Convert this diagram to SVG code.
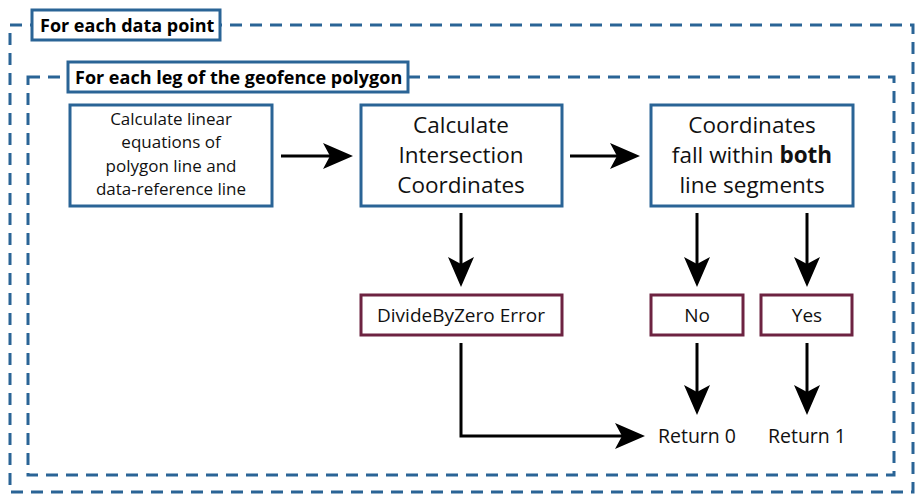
<svg xmlns="http://www.w3.org/2000/svg" width="924" height="503" viewBox="0 0 924 503">
<style>
.dash{fill:none;stroke:#2a6496;stroke-width:3;stroke-dasharray:12 8}
.bbox{fill:#fff;stroke:#2a6496;stroke-width:3}
.rbox{fill:#fff;stroke:#6d2341;stroke-width:3}
.t{font-family:"Open Sans","Noto Sans",sans-serif;fill:#111;text-anchor:middle}
.lbl{font-family:"Open Sans","Noto Sans",sans-serif;font-weight:bold;font-size:18px;fill:#000}
.con{fill:none;stroke:#000;stroke-width:3}
</style>
<defs>
<marker id="ah" viewBox="0 0 30 26" refX="8" refY="13" markerWidth="30" markerHeight="26" markerUnits="userSpaceOnUse" orient="auto">
<path d="M0,0 L30,13 L0,26 L7,13 Z" fill="#000"/>
</marker>
</defs>
<rect width="924" height="503" fill="#fff"/>
<g id="outer-loop">
<rect class="dash" x="10" y="25" width="903" height="467"/>
<rect class="bbox" x="32" y="10" width="188" height="30"/>
<text class="lbl" x="40" y="32">For each data point</text>
</g>
<g id="inner-loop">
<rect class="dash" x="28" y="77" width="866" height="398"/>
<rect class="bbox" x="68" y="62" width="340" height="30"/>
<text class="lbl" x="75" y="84">For each leg of the geofence polygon</text>
</g>
<g id="connectors">
<line class="con" x1="281" y1="156" x2="331" y2="156" marker-end="url(#ah)"/>
<line class="con" x1="570" y1="156" x2="618" y2="156" marker-end="url(#ah)"/>
<line class="con" x1="461" y1="213" x2="461" y2="265" marker-end="url(#ah)"/>
<line class="con" x1="697" y1="213" x2="697" y2="265" marker-end="url(#ah)"/>
<line class="con" x1="807" y1="213" x2="807" y2="265" marker-end="url(#ah)"/>
<line class="con" x1="697" y1="343" x2="697" y2="393" marker-end="url(#ah)"/>
<line class="con" x1="807" y1="343" x2="807" y2="393" marker-end="url(#ah)"/>
<polyline class="con" points="461,343 461,436 623,436" marker-end="url(#ah)"/>
</g>
<g id="calc-linear">
<rect class="bbox" x="70" y="105" width="202" height="101"/>
<text class="t" font-size="17" x="171"><tspan x="171" y="125">Calculate linear</tspan><tspan x="171" y="148">equations of</tspan><tspan x="171" y="172">polygon line and</tspan><tspan x="171" y="195">data-reference line</tspan></text>
</g>
<g id="calc-intersection">
<rect class="bbox" x="361" y="105" width="201" height="101"/>
<text class="t" font-size="22.5" x="461"><tspan x="461" y="133">Calculate</tspan><tspan x="461" y="163">Intersection</tspan><tspan x="461" y="193">Coordinates</tspan></text>
</g>
<g id="coords-within">
<rect class="bbox" x="651" y="105" width="202" height="101"/>
<text class="t" font-size="22.5" x="752"><tspan x="752" y="133">Coordinates</tspan><tspan x="752" y="163">fall within <tspan font-weight="bold">both</tspan></tspan><tspan x="752" y="193">line segments</tspan></text>
</g>
<g id="divide-error">
<rect class="rbox" x="361" y="295" width="201" height="40"/>
<text class="t" font-size="19" x="461" y="322">DivideByZero Error</text>
</g>
<g id="no">
<rect class="rbox" x="651" y="295" width="92" height="40"/>
<text class="t" font-size="19" x="697" y="322">No</text>
</g>
<g id="yes">
<rect class="rbox" x="761" y="295" width="91" height="40"/>
<text class="t" font-size="19" x="807" y="322">Yes</text>
</g>
<g id="return0">
<text class="t" font-size="19.5" x="697" y="443">Return 0</text>
</g>
<g id="return1">
<text class="t" font-size="19.5" x="807" y="443">Return 1</text>
</g>
</svg>
